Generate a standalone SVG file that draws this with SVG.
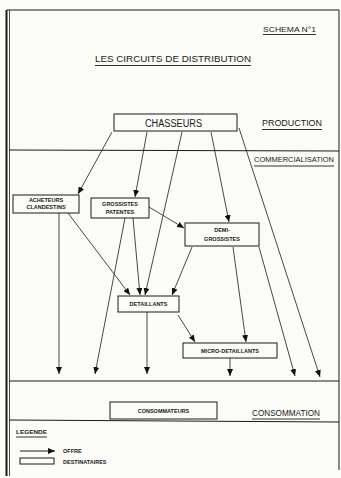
<svg xmlns="http://www.w3.org/2000/svg" width="341" height="478" viewBox="0 0 341 478">
<defs>
<marker id="ah" markerWidth="8" markerHeight="6" refX="7" refY="3" orient="auto" markerUnits="userSpaceOnUse">
<path d="M0,0 L7,3 L0,6 Z" fill="#111"/>
</marker>
<style>
.bg{fill:#fbfbf8}
.frame{stroke:#1a1a1a;fill:none}
.box{fill:#fbfbf8;stroke:#1a1a1a;stroke-width:1}
.t{font-family:"Liberation Sans",Arial,sans-serif;fill:#1a1a1a}
.n{font-size:5.5px;font-weight:bold}
.h{font-size:9px}
.c{stroke:#1a1a1a;stroke-width:0.8;fill:none;marker-end:url(#ah)}
.ul{stroke:#1a1a1a;stroke-width:0.9}
</style>
</defs>
<rect class="bg" x="0" y="0" width="341" height="478"/>
<g id="frame">
<line class="frame" x1="7" y1="10" x2="339" y2="10" stroke-width="1.2"/>
<line class="frame" x1="6.5" y1="10" x2="6.5" y2="476" stroke-width="2"/>
<line class="frame" x1="9.5" y1="10" x2="9.5" y2="476" stroke-width="0.8"/>
<line class="frame" x1="339" y1="10" x2="339" y2="470" stroke-width="1"/>
<line class="frame" x1="9" y1="150" x2="339" y2="151" stroke-width="1"/>
<line class="frame" x1="9" y1="381" x2="339" y2="381" stroke-width="1"/>
<line class="frame" x1="9" y1="420" x2="339" y2="422" stroke-width="1"/>
</g>
<g id="titles">
<text class="t" x="263" y="32" font-size="7" textLength="53" lengthAdjust="spacingAndGlyphs">SCHEMA N°1</text>
<line class="ul" x1="263" y1="34.5" x2="316" y2="34.5"/>
<text class="t" x="95" y="62" font-size="8.5" textLength="156" lengthAdjust="spacingAndGlyphs">LES CIRCUITS  DE  DISTRIBUTION</text>
<line class="ul" x1="95" y1="65.5" x2="251" y2="65.5"/>
<text class="t h" x="262" y="126" textLength="60" lengthAdjust="spacingAndGlyphs">PRODUCTION</text>
<line class="ul" x1="262" y1="129.5" x2="322" y2="129.5"/>
<text class="t" x="254" y="162" font-size="8" textLength="80" lengthAdjust="spacingAndGlyphs">COMMERCIALISATION</text>
<line class="ul" x1="254" y1="166" x2="334" y2="166"/>
<text class="t h" x="252" y="416" textLength="68" lengthAdjust="spacingAndGlyphs">CONSOMMATION</text>
<line class="ul" x1="252" y1="419" x2="320" y2="419"/>
</g>
<g id="connectors">
<line class="c" x1="112" y1="132" x2="78" y2="194"/>
<line class="c" x1="147" y1="132" x2="135" y2="197"/>
<line class="c" x1="182" y1="132" x2="145" y2="295"/>
<line class="c" x1="211" y1="132" x2="229" y2="222"/>
<line class="c" x1="239" y1="128" x2="320" y2="377"/>
<line class="c" x1="59" y1="213" x2="59" y2="374"/>
<line class="c" x1="68" y1="213" x2="130" y2="295"/>
<line class="c" x1="125" y1="218" x2="95" y2="374"/>
<line class="c" x1="133" y1="218" x2="140" y2="295"/>
<line class="c" x1="149" y1="207" x2="184" y2="228"/>
<line class="c" x1="192" y1="247" x2="172" y2="295"/>
<line class="c" x1="233" y1="247" x2="246" y2="342"/>
<line class="c" x1="259" y1="247" x2="295" y2="376"/>
<line class="c" x1="147" y1="312" x2="147" y2="374"/>
<line class="c" x1="178" y1="315" x2="195" y2="342"/>
<line class="c" x1="230" y1="358" x2="230" y2="376"/>
</g>
<g id="chasseurs">
<rect class="box" x="114" y="114" width="123" height="17"/>
<text class="t" x="145" y="127" font-size="10" textLength="57" lengthAdjust="spacingAndGlyphs">CHASSEURS</text>
</g>
<g id="acheteurs">
<rect class="box" x="13" y="195" width="66" height="18" stroke-width="1.3"/>
<text class="t n" x="46" y="201.5" text-anchor="middle">ACHETEURS</text>
<text class="t n" x="46" y="209" text-anchor="middle">CLANDESTINS</text>
</g>
<g id="grossistes">
<rect class="box" x="91" y="198" width="58" height="20"/>
<text class="t n" x="120" y="205.5" text-anchor="middle">GROSSISTES</text>
<text class="t n" x="120" y="213.5" text-anchor="middle">PATENTES</text>
</g>
<g id="demi-grossistes">
<rect class="box" x="185" y="223" width="74" height="23"/>
<text class="t n" x="222" y="232" text-anchor="middle">DEMI-</text>
<text class="t n" x="222" y="240.5" text-anchor="middle">GROSSISTES</text>
</g>
<g id="detaillants">
<rect class="box" x="118" y="296" width="61" height="16"/>
<text class="t n" x="148.5" y="306" text-anchor="middle">DETAILLANTS</text>
</g>
<g id="micro-detaillants">
<rect class="box" x="183" y="343" width="94" height="15"/>
<text class="t n" x="230" y="352.5" text-anchor="middle">MICRO-DETAILLANTS</text>
</g>
<g id="consommateurs">
<rect class="box" x="110" y="402" width="107" height="17"/>
<text class="t n" x="163.5" y="413" text-anchor="middle">CONSOMMATEURS</text>
</g>
<g id="legende">
<text class="t" x="16" y="434" font-size="6" font-weight="bold" textLength="31" lengthAdjust="spacingAndGlyphs">LEGENDE</text>
<line class="ul" x1="16" y1="437" x2="47" y2="437"/>
<line x1="20" y1="451" x2="55" y2="451" stroke="#1a1a1a" stroke-width="1" marker-end="url(#ah)"/>
<text class="t n" x="63" y="453">OFFRE</text>
<rect x="20" y="458" width="34" height="6" fill="none" stroke="#1a1a1a" stroke-width="1"/>
<text class="t n" x="63" y="463.5">DESTINATAIRES</text>
</g>
</svg>
